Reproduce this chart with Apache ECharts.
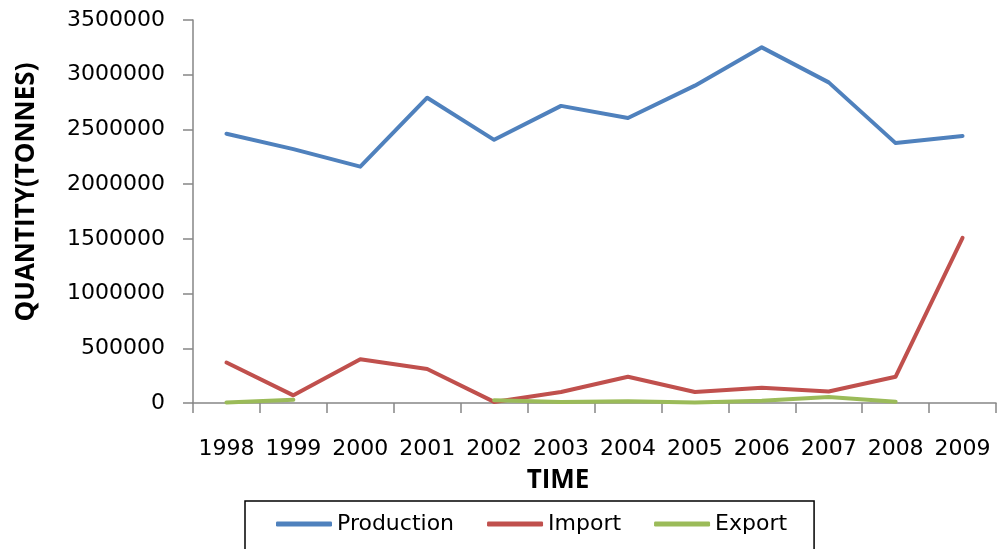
<!DOCTYPE html>
<html>
<head>
<meta charset="utf-8">
<script src="https://cdn.jsdelivr.net/npm/echarts@6/dist/echarts.min.js"></script>
<style>
html,body{margin:0;padding:0;background:#fff;}
#chart{width:997px;height:549px;}
</style>
</head>
<body>
<div id="chart"></div>
<script>
const years = ['1998','1999','2000','2001','2002','2003','2004','2005','2006','2007','2008','2009'];
const production = [2460000, 2320000, 2160000, 2790000, 2405000, 2715000, 2605000, 2900000, 3250000, 2930000, 2375000, 2440000];
const importVals = [370000, 70000, 400000, 310000, 10000, 100000, 240000, 100000, 140000, 105000, 240000, 1510000];
const exportVals = [5000, 30000, null, null, 25000, 10000, 15000, 5000, 20000, 55000, 12000, null];
const yTicks = { min: 0, max: 3500000, interval: 500000 };
const yTitle = 'QUANTITY(TONNES)';
const xTitle = 'TIME';

const chart = echarts.init(document.getElementById('chart'), null, { renderer: 'canvas' });
const axisGray = '#868686';
const font = '"DejaVu Sans", "Open Sans", sans-serif';
const titleFont = '"Open Sans", "Liberation Sans", sans-serif';
function lineSeries(name, data, color) {
  return {
    name: name, type: 'line', data: data, showSymbol: false, symbol: 'none',
    connectNulls: false,
    lineStyle: { width: 4, color: color, cap: 'round', join: 'round' },
    itemStyle: { color: color },
    emphasis: { disabled: true }
  };
}
chart.setOption({
  animation: false,
  backgroundColor: '#ffffff',
  grid: { left: 193, right: 1, top: 20, bottom: 146, containLabel: false },
  xAxis: {
    type: 'category', data: years, boundaryGap: true,
    axisLine: { lineStyle: { color: axisGray, width: 1.5 } },
    axisTick: { show: true, length: 10, alignWithLabel: false, lineStyle: { color: axisGray, width: 1.5 } },
    axisLabel: { color: '#000', fontFamily: font, fontSize: 22, margin: 35, interval: 0 },
    splitLine: { show: false }
  },
  yAxis: {
    type: 'value', min: yTicks.min, max: yTicks.max, interval: yTicks.interval,
    axisLine: { show: true, lineStyle: { color: axisGray, width: 1.5 } },
    axisTick: { show: true, length: 10, lineStyle: { color: axisGray, width: 1.5 } },
    axisLabel: { color: '#000', fontFamily: font, fontSize: 22, margin: 28, formatter: function (v) { return String(v); } },
    splitLine: { show: false }
  },
  legend: {
    left: 245, top: 501, orient: 'horizontal',
    padding: [12, 27, 40, 31],
    borderColor: '#000', borderWidth: 1.5,
    itemWidth: 56, itemHeight: 5, itemGap: 33,
    icon: 'roundRect',
    textStyle: { color: '#000', fontFamily: font, fontSize: 22 },
    data: ['Production', 'Import', 'Export']
  },
  graphic: [
    { type: 'text', x: 27, y: 192, rotation: Math.PI / 2,
      style: { text: yTitle, fill: '#000', font: 'bold 26px ' + titleFont, align: 'center', verticalAlign: 'middle' } },
    { type: 'text', x: 558, y: 481,
      style: { text: xTitle, fill: '#000', font: 'bold 26px ' + titleFont, align: 'center', verticalAlign: 'middle' } }
  ],
  series: [
    lineSeries('Production', production, '#4F81BD'),
    lineSeries('Import', importVals, '#C0504D'),
    lineSeries('Export', exportVals, '#9BBB59')
  ]
});
</script>
</body>
</html>
